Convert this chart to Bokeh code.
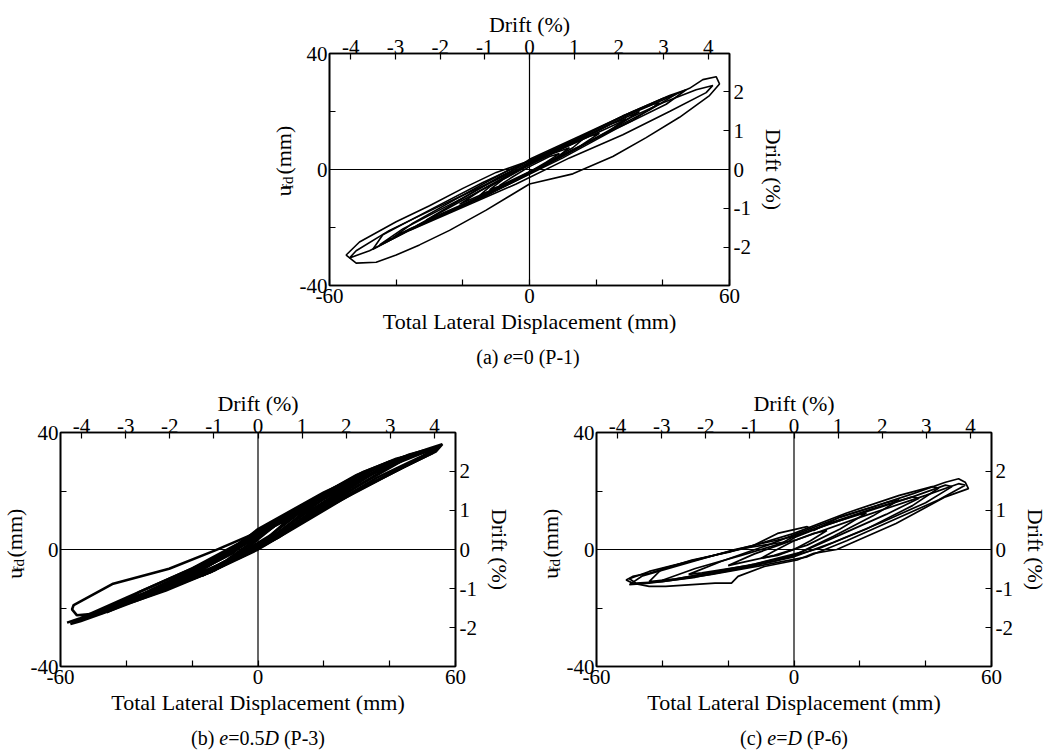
import math
from bokeh.plotting import figure
from bokeh.models import Range1d, LinearAxis, FixedTicker, Span, Spacer, ColumnDataSource
from bokeh.layouts import row, column
from bokeh.embed import file_html
from bokeh.resources import INLINE
from bokeh.core.properties import value

FONT = "Liberation Serif"

# ---------------- axes ----------------
disp_ticks = [-60, -40, -20, 0, 20, 40, 60]
disp_labels = ["-60", "", "", "0", "", "", "60"]
ufd_ticks = [-40, -20, 0, 20, 40]
ufd_labels = ["-40", "", "0", "", "40"]
drift_x_ticks = [-4, -3, -2, -1, 0, 1, 2, 3, 4]
drift_x_labels = ["-4", "-3", "-2", "-1", "0", "1", "2", "3", "4"]
drift_y_ticks = [-2, -1, 0, 1, 2]
drift_y_labels = ["-2", "-1", "0", "1", "2"]
MM_PER_PCT = 13.4   # 1 % drift = 13.4 mm

# ---------------- data: (a) e=0 (P-1) ----------------
a_x = [
    [0, 7, 12, 8, 0, -7, -12, -8, 0],
    [0, 6, 9, 5, -1, -6, -9, -5, 0],
    [0, 9, 16, 13, 4, -6, -15, -12, -2, 0],
    [0, 10, 18, 21, 15, 5, -6, -15, -21, -15, -4, 0],
    [0, 12, 24, 29, 23, 10, -4, -17, -28, -31, -23, -9, 0],
    [0, 13, 25, 33, 27, 14, 0, -14, -27, -34, -27, -12, 0],
    [0, 14, 28, 37, 39, 31, 16, 2, -12, -26, -36, -41, -35, -21, -6, 0],
    [0, 15, 30, 40, 44, 36, 20, 4, -12, -28, -40, -45, -38, -22, -6, 0],
    [0, 16, 31, 42, 47, 41, 26, 10, -6, -22, -37, -47, -44, -30, -14, 0],
    [0, 10, 20, 30, 40, 48, 52, 56, 57, 54, 45, 35, 25, 13, 0, -13, -24, -33, -40, -46, -52, -55, -51, -40, -30, -20, -10, 0],
    [0, 20, 40, 50, 55, 53, 42, 28, 12, -4, -20, -36, -48, -54, -52, -42, -24, -8, 0],
]
a_y = [
    [1.5, 5.5, 7.5, 4, -1, -5, -7, -3.5, 1.5],
    [1, 4.5, 5.5, 2.5, -1.5, -4.5, -5.5, -2.5, 1],
    [2.5, 7.5, 10.5, 7.5, 1.5, -4.5, -9, -6, 0.5, 2.5],
    [2, 7.5, 11.5, 12.5, 8, 2, -4, -9, -12, -7.5, -0.5, 2],
    [2.5, 9, 15.5, 17.5, 12.5, 5, -3.5, -10.5, -16.5, -17.5, -12, -2.5, 2.5],
    [2, 9, 16, 20, 15.5, 7, -1.5, -9.5, -16, -19.5, -15, -5.5, 2],
    [3, 10.5, 18.5, 22.5, 23, 17, 8.5, 0, -8.5, -15.5, -20.5, -23.5, -18.5, -9.5, 0, 3],
    [3.5, 11.5, 19.5, 24.5, 26, 20.5, 11, 1, -8, -16, -23, -26, -20.5, -11, -1, 3.5],
    [3, 11.5, 20, 25.5, 27.5, 22.5, 14, 4, -5, -13.5, -21.5, -27.5, -22.5, -14, -4.5, 3],
    [3, 8, 13, 19, 24, 28, 31, 32, 29.5, 25.5, 18, 11, 4.5, -1.5, -5, -14, -21, -26, -29.5, -32, -32.3, -29.5, -25, -18, -12.5, -6.5, -1, 3],
    [2, 12.5, 23, 27.5, 29, 26.5, 20, 12, 4, -5, -13, -21, -28, -30.5, -28, -21, -11, -2.5, 2],
]

# ---------------- data: (b) e=0.5D (P-3) ----------------
b_x = [
    [0, 5, 10, 6, 0, -6, -10, -6, 0],
    [0, 6, 12, 18, 12, 4, -4, -12, -17, -10, -3, 0],
    [0, 8, 16, 12, 4, -4, -14, -10, -2, 0],
    [0, 10, 20, 22, 14, 4, -8, -18, -21, -12, -2, 0],
    [0, 12, 25, 30, 22, 10, -2, -14, -28, -24, -10, 0],
    [0, 15, 30, 35, 28, 14, 2, -12, -26, -33, -24, -10, 0],
    [0, 16, 32, 40, 36, 24, 8, -6, -22, -36, -41, -32, -16, 0],
    [0, 14, 28, 38, 44, 40, 28, 12, -4, -20, -34, -44, -48, -40, -24, -8, 0],
    [0, 15, 30, 42, 47, 38, 22, 6, -10, -26, -40, -46, -36, -20, -6, 0],
    [0, 18, 36, 46, 51, 44, 30, 14, -2, -18, -34, -48, -52, -44, -28, -12, 0],
    [0, 22, 42, 52, 55, 50, 36, 18, 2, -14, -32, -46, -55, -52, -38, -20, -6, 0],
    [0, 20, 40, 52, 56, 54, 44, 30, 12, 0, -14, -30, -44, -54, -57, -50, -36, -22, -10, 0],
    [0, 20, 40, 50, 55, 53, 42, 28, 10, -2, -13, -28, -37, -50, -55, -56.5, -56, -44, -27, -13, 0],
    [0, 18, 36, 48, 54, 50, 38, 22, 6, -8, -22, -38, -52, -58, -54, -40, -24, -10, 0],
]
b_y = [
    [4, 8, 11, 7, 1, -2.5, -4.5, -1.5, 4],
    [3.5, 9, 13.5, 17, 11, 3.5, -2, -6, -9, -5, 0.5, 3.5],
    [4.5, 10.5, 15.5, 12, 5, -0.5, -6.5, -4, 2.5, 4.5],
    [5, 12, 18.5, 19, 12.5, 4, -3, -8.5, -10, -3.5, 3, 5],
    [5.5, 13.5, 22, 24, 17.5, 8, 0, -6.5, -13.5, -11, -2.5, 5.5],
    [6, 15.5, 25, 27.5, 22, 12, 2.5, -5.5, -12, -15.5, -9, -1, 6],
    [6, 16.5, 26.5, 30, 27, 18.5, 6, -3, -10.5, -16.5, -19, -13.5, -5, 6],
    [5.5, 14.5, 23.5, 29, 31.5, 29.5, 21, 9, -1.5, -10, -15.5, -20, -22, -17.5, -10.5, -1.5, 5.5],
    [6.5, 16, 25.5, 31, 32.5, 27, 16, 4, -5, -12.5, -18.5, -21.5, -14.5, -6.5, 2, 6.5],
    [6.5, 18, 28, 32.5, 34, 30.5, 21.5, 10, 0.5, -9, -15.5, -21.5, -23.5, -19, -12, -3.5, 6.5],
    [6, 19.5, 30, 34, 35, 32, 24.5, 12.5, 1.5, -7.5, -15, -21, -24.5, -23, -17, -8.5, 1, 6],
    [7, 19.5, 30, 34.5, 36, 33.5, 28, 20, 8, 0, -7.5, -14.5, -20.5, -24.5, -25.5, -22.5, -16, -9.5, -2, 7],
    [6, 18, 28.5, 33, 35, 33, 27, 19, 7, 0, -7, -14, -17.5, -22, -22.5, -20.5, -19, -11.7, -6.6, -0.3, 6],
    [5, 16, 27, 32.5, 34.5, 31.5, 24.5, 15, 4.5, -3.5, -10, -17, -23, -25, -23.5, -16.5, -8.5, -1.5, 5],
]

# ---------------- data: (c) e=D (P-6) ----------------
c_x = [
    [0, 6, 10, 5, 0, -5, -10, -6, 0],
    [0, 10, 20, 22, 14, 4, -6, -16, -20, -12, -2, 0],
    [0, 14, 28, 32, 24, 12, 0, -14, -28, -32, -22, -8, 0],
    [0, 12, 24, 36, 38, 28, 14, 2, -12, -26, -38, -40, -30, -16, -4, 0],
    [0, 16, 32, 42, 44, 36, 22, 8, -6, -22, -36, -44, -40, -26, -12, 0],
    [0, 18, 36, 46, 48, 40, 26, 12, 0, -14, -30, -44, -50, -46, -32, -18, -6, 0],
    [-19, -13, -5, 4, 6, 14, 24, 36, 46, 50, 52, 53, 46, 31, 13, 6, 1, -9, -17, -19, -24, -39, -44, -49, -51, -49, -44, -31, -19],
    [0, 20, 40, 50, 52, 44, 30, 16, 4, -10, -25, -40, -48, -50, -44, -30, -15, 0],
]
c_y = [
    [3, 5.5, 6.5, 3, 0, -2, -3, -0.5, 3],
    [4, 8.5, 12, 12.5, 7, 1.5, -2, -4.5, -5.5, -1.5, 2.5, 4],
    [5, 11, 16, 17, 11.5, 4.5, -2, -5.5, -8, -8.5, -4, 1.5, 5],
    [4.5, 9.5, 14, 18, 17.5, 12, 5, -1, -5, -8, -10.5, -10.5, -6.5, -2, 2, 4.5],
    [5.5, 12.5, 18.5, 21.5, 21, 15, 7, 0.5, -4, -7.5, -10, -11, -6.5, -2.5, 1.5, 5.5],
    [4.5, 11.5, 18, 22, 21.5, 16, 9, 2.5, -2.5, -6, -9.5, -11.5, -12, -9, -4.5, 0, 3, 4.5],
    [-0.7, 1, 5.5, 7.8, 6.5, 11.2, 14.6, 19, 23, 24.2, 23, 20.8, 18, 8.9, 0, -1.3, -3.6, -5.8, -9.2, -11.5, -11.5, -12.6, -12.6, -11.5, -10.4, -9.2, -8.1, -3.6, -0.7],
    [3, 11, 18.5, 22.5, 22, 17, 10, 3, -2.5, -5.5, -8.5, -11, -11.5, -10, -7.5, -3.5, 0.5, 3],
]

# captions: (text, font style, advance in em at caption size)
cap_a = [("(a)", "normal", 1.36), ("e", "italic", 0.444), ("=0", "normal", 1.314), ("(P-1)", "normal", 2.055)]
cap_b = [("(b)", "normal", 1.416), ("e", "italic", 0.444), ("=0.5", "normal", 1.814), ("D", "italic", 0.972), ("(P-3)", "normal", 2.055)]
cap_c = [("(c)", "normal", 1.36), ("e", "italic", 0.444), ("=", "normal", 0.564), ("D", "italic", 0.972), ("(P-6)", "normal", 2.055)]

TICK_SIZE = "21px"
LAB_SIZE = "22px"
CAP_SIZE = 20


def style_axis(ax, ticks, labels, standoff):
    ax.ticker = FixedTicker(ticks=ticks)
    ax.major_label_overrides = dict(zip(ticks, labels))
    ax.major_tick_in = 6
    ax.major_tick_out = 0
    ax.minor_tick_line_color = None
    ax.axis_line_width = 1.6
    ax.axis_line_color = "black"
    ax.major_tick_line_width = 1.2
    ax.major_tick_line_color = "black"
    ax.major_label_text_font = FONT
    ax.major_label_text_font_size = TICK_SIZE
    ax.major_label_text_color = "black"
    ax.major_label_standoff = standoff
    ax.axis_label_text_font = FONT
    ax.axis_label_text_font_style = "normal"
    ax.axis_label_text_font_size = LAB_SIZE
    ax.axis_label_text_color = "black"


def make_panel(xs, ys, bl, br, bt, bb, fw, fh, lw):
    p = figure(width=bl + fw + br, height=bt + fh + bb,
               x_range=Range1d(-60, 60), y_range=Range1d(-40, 40),
               output_backend="svg", toolbar_location=None,
               min_border_left=bl, min_border_right=br,
               min_border_top=bt, min_border_bottom=bb,
               background_fill_color="white", border_fill_color="white",
               outline_line_color="black", outline_line_width=1.6)
    p.grid.visible = False
    p.extra_x_ranges = {"drift": Range1d(-60 / MM_PER_PCT, 60 / MM_PER_PCT)}
    p.extra_y_ranges = {"drift": Range1d(-40 / MM_PER_PCT, 40 / MM_PER_PCT)}

    bottom = p.below[0]
    left = p.left[0]
    top = LinearAxis(x_range_name="drift")
    right = LinearAxis(y_range_name="drift")
    p.add_layout(top, "above")
    p.add_layout(right, "right")

    style_axis(bottom, disp_ticks, disp_labels, 3)
    style_axis(left, ufd_ticks, ufd_labels, 2)
    style_axis(top, drift_x_ticks, drift_x_labels, 0)
    style_axis(right, drift_y_ticks, drift_y_labels, 4)
    bottom.axis_label = "Total Lateral Displacement (mm)"
    bottom.axis_label_standoff = 3
    top.axis_label = "Drift (%)"
    top.axis_label_standoff = 0
    right.axis_label = "Drift (%)"
    right.axis_label_standoff = 7

    p.add_layout(Span(location=0, dimension="width", line_color="black", line_width=1.2))
    p.add_layout(Span(location=0, dimension="height", line_color="black", line_width=1.2))

    src = ColumnDataSource(dict(xs=xs, ys=ys))
    p.multi_line(xs="xs", ys="ys", source=src, line_color="black", line_width=lw)
    return p


def text_fig(w, h):
    t = figure(width=w, height=h, x_range=Range1d(0, w), y_range=Range1d(0, h),
               output_backend="svg", toolbar_location=None, title=None,
               min_border=0, x_axis_location=None, y_axis_location=None,
               outline_line_color=None, background_fill_color="white",
               border_fill_color="white")
    t.grid.visible = False
    return t


def ufd_fig(w, h, cx_u, cx_fd, yc):
    """rotated 'u_fd (mm)' label; cx_* = centre-line x of the text, yc = centre (px from top)"""
    t = text_fig(w, h)
    yb = h - yc
    common = dict(angle=math.pi / 2, text_font=value(FONT), text_align=value("left"),
                  text_baseline=value("middle"), text_color="black")
    t.text(x=[cx_u], y=[yb - 41], text=["u"], text_font_size=value(LAB_SIZE), **common)
    t.text(x=[cx_fd], y=[yb - 30], text=["fd"], text_font_size=value("15px"), **common)
    t.text(x=[cx_u], y=[yb - 9], text=["(mm)"], text_font_size=value(LAB_SIZE), **common)
    return t


def caption_fig(w, h, xc, mid_from_top, parts):
    t = text_fig(w, h)
    total = sum(wd for _, _, wd in parts) * CAP_SIZE
    off = xc - total / 2
    for text, style, wd in parts:
        t.text(x=[off], y=[h - mid_from_top], text=[text], text_font=value(FONT),
               text_font_style=value(style), text_font_size=value(f"{CAP_SIZE}px"),
               text_align=value("left"), text_baseline=value("middle"), text_color="black")
        off += wd * CAP_SIZE
    return t


# ---- panel (a): frame at x 326..729, y 53..285
fig_a = make_panel(a_x, a_y, bl=30, br=80, bt=53, bb=56, fw=403, fh=232, lw=1.6)
ul_a = ufd_fig(46, 341, 33, 37.5, 169)
cp_a = caption_fig(559, 29, 277.5, 15, cap_a)
block_a = row(Spacer(width=250, height=10), column(row(ul_a, fig_a), cp_a))

# ---- panel (b): frame at x 57..458, y 432..666
fig_b = make_panel(b_x, b_y, bl=30, br=56, bt=62, bb=56, fw=401, fh=234, lw=2.6)
ul_b = ufd_fig(27, 352, 13.5, 18, 179)
cp_b = caption_fig(514, 32, 257.5, 15.5, cap_b)
block_b = column(row(ul_b, fig_b), cp_b)

# ---- panel (c): frame at x 593..994, y 432..666
fig_c = make_panel(c_x, c_y, bl=30, br=56, bt=62, bb=56, fw=401, fh=234, lw=1.7)
ul_c = ufd_fig(49, 352, 36, 40.5, 179)
cp_c = caption_fig(536, 32, 279.5, 15.5, cap_c)
block_c = column(row(ul_c, fig_c), cp_c)

layout = column(block_a, row(block_b, block_c))

open("out.html", "w").write(file_html(layout, INLINE))
